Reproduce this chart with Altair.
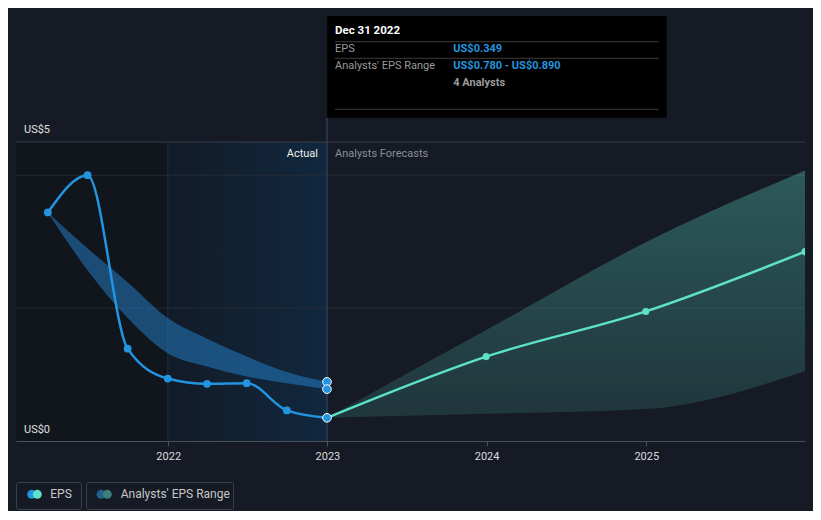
import altair as alt
import pandas as pd

# ---------------- data ----------------
eps_dates = ["2021-03-31", "2021-06-30", "2021-09-30", "2021-12-31",
             "2022-03-31", "2022-06-30", "2022-09-30", "2022-12-31"]
eps_values = [3.44, 4.00, 1.39, 0.94, 0.86, 0.87, 0.46, 0.349]
past_range_low = [3.44, 2.57, 1.85, 1.32, 1.12, 0.97, 0.87, 0.78]
past_range_high = [3.44, 2.90, 2.39, 1.85, 1.54, 1.27, 1.04, 0.89]

fc_dates = ["2022-12-31", "2023-12-31", "2024-12-31", "2025-12-31"]
fc_values = [0.349, 1.27, 1.95, 2.85]
fc_low = [0.349, 0.41, 0.48, 1.05]
fc_high = [0.349, 1.67, 2.99, 4.07]

grid_values = [2, 4]
top_value = [4.5]
year_ticks = [2022, 2023, 2024, 2025]
n_analysts = 4

# ---------------- styling ----------------
BG = "#151a24"
BLUE = "#2394df"
TEAL = "#5de1c9"
W, H = 789, 299

xs = alt.Scale(domain=[alt.DateTime(year=2021, month=1, date=17),
                       alt.DateTime(year=2025, month=12, date=31)])
ys = alt.Scale(domain=[0, 4.5], nice=False, zero=False)

xaxis = alt.Axis(values=[alt.DateTime(year=y, month=1, date=1) for y in year_ticks],
                 format="%Y", labelColor="#dcdcdc", labelFontSize=11,
                 tickColor="#4a4f58", tickSize=5, domainColor="#4a4f58",
                 domainWidth=1, grid=False, labelPadding=4, title=None,
                 labelFont="Roboto")


def X(field):
    return alt.X(field + ":T", scale=xs, axis=xaxis, title=None)


def Y(field):
    return alt.Y(field + ":Q", scale=ys, axis=None, title=None)


one = pd.DataFrame({"a": [0]})


def txt(s, x, y, color="#e0e0e0", size=11, weight="normal", align="left"):
    return alt.Chart(one).mark_text(text=s, color=color, fontSize=size,
                                    fontWeight=weight, align=align,
                                    baseline="middle", font="Roboto").encode(
        x=alt.value(x), y=alt.value(y))


def box(x1, x2, y1, y2, fill, stroke=None, radius=0):
    kw = dict(fill=fill)
    if stroke:
        kw.update(stroke=stroke, strokeWidth=1)
    if radius:
        kw.update(cornerRadius=radius)
    return alt.Chart(one).mark_rect(**kw).encode(
        x=alt.value(x1), x2=alt.value(x2), y=alt.value(y1), y2=alt.value(y2))


def hline(x1, x2, y, color):
    return alt.Chart(one).mark_rule(color=color, strokeWidth=1).encode(
        x=alt.value(x1), x2=alt.value(x2), y=alt.value(y))


def dot(x, y, color, size=80):
    return alt.Chart(one).mark_point(filled=True, color=color, size=size, opacity=1).encode(
        x=alt.value(x), y=alt.value(y))


# ---------------- tables ----------------
eps_df = pd.DataFrame({"date": pd.to_datetime(eps_dates), "eps": eps_values,
                       "low": past_range_low, "high": past_range_high})
fc_df = pd.DataFrame({"date": pd.to_datetime(fc_dates), "eps": fc_values,
                      "low": fc_low, "high": fc_high})
last_date = eps_df["date"].iloc[-1]
prev_year = eps_df["date"].iloc[3]

regions = pd.DataFrame({"start": [pd.Timestamp("2021-01-17"), prev_year],
                        "end": [prev_year, last_date], "kind": ["past", "actual"]})

# ---------------- layers ----------------
dark_bg = alt.Chart(regions.iloc[[0]]).mark_rect(fill="#11151c").encode(
    x=X("start"), x2="end", y=alt.value(0), y2=alt.value(H))

actual_bg = alt.Chart(regions.iloc[[1]]).mark_rect(
    fill=alt.Gradient(gradient="linear", x1=0, x2=1, y1=0, y2=0,
                      stops=[alt.GradientStop(color="#121b28", offset=0),
                             alt.GradientStop(color="#11283e", offset=1)])
).encode(x=X("start"), x2="end", y=alt.value(0), y2=alt.value(H))

grid = alt.Chart(pd.DataFrame({"v": grid_values})).mark_rule(
    color="#262c36", strokeWidth=1).encode(y=Y("v"))
top_line = alt.Chart(pd.DataFrame({"v": top_value})).mark_rule(
    color="#383d46", strokeWidth=1).encode(y=Y("v"))

prev_line = alt.Chart(regions.iloc[[1]]).mark_rule(color="#1a3048", strokeWidth=1).encode(
    x=X("start"), y=alt.value(0), y2=alt.value(H))
now_line = alt.Chart(regions.iloc[[1]]).mark_rule(color="#34506c", strokeWidth=1).encode(
    x=X("end"), y=alt.value(-24), y2=alt.value(H))

past_band = alt.Chart(eps_df).mark_area(interpolate="monotone", fill="#2383d0",
                                        opacity=0.5).encode(
    x=X("date"), y=Y("low"), y2="high")

fc_band = alt.Chart(fc_df).mark_area(
    interpolate="monotone",
    fill=alt.Gradient(gradient="linear", x1=0, x2=0, y1=0, y2=1,
                      stops=[alt.GradientStop(color="rgba(95,224,200,0.32)", offset=0),
                             alt.GradientStop(color="rgba(95,224,200,0.14)", offset=1)])
).encode(x=X("date"), y=Y("low"), y2="high")

eps_line = alt.Chart(eps_df).mark_line(interpolate="monotone", color=BLUE,
                                       strokeWidth=2.5).encode(x=X("date"), y=Y("eps"))
fc_line = alt.Chart(fc_df).mark_line(interpolate="monotone", color=TEAL,
                                     strokeWidth=2.5).encode(x=X("date"), y=Y("eps"))

eps_pts = alt.Chart(eps_df.iloc[:-1]).mark_point(filled=True, color=BLUE, size=60,
                                                opacity=1).encode(x=X("date"), y=Y("eps"))
fc_pts = alt.Chart(fc_df.iloc[1:]).mark_point(filled=True, color=TEAL, size=50, opacity=1,
                                             clip=True).encode(x=X("date"), y=Y("eps"))

last_df = pd.DataFrame({"date": [last_date] * 3,
                        "v": [past_range_high[-1], past_range_low[-1], eps_values[-1]]})
last_pts = alt.Chart(last_df).mark_point(filled=True, fill=BLUE, stroke="white",
                                         strokeWidth=1, size=75, opacity=1).encode(
    x=X("date"), y=Y("v"))

# ---------------- annotations ----------------
ann = [
    txt("US$5", 8, -12),
    txt("US$0", 8, 288),
    txt("Actual", 302, 12, color="#f0f0f0", align="right"),
    txt("Analysts Forecasts", 319, 12, color="#8a8f98"),
    # tooltip
    box(311.3, 650.7, -126, -24.3, "#000000"),
    txt("Dec 31 2022", 319, -111, color="#ffffff", size=11.5, weight="bold"),
    hline(319, 643, -100.3, "#3c3c3c"),
    txt("EPS", 319, -93, color="#9a9a9a"),
    txt(f"US${eps_values[-1]:.3f}", 437.3, -93, color=BLUE, weight="bold"),
    hline(319, 643, -83.7, "#3c3c3c"),
    txt("Analysts' EPS Range", 319, -76.3, color="#9a9a9a"),
    txt(f"US${past_range_low[-1]:.3f} - US${past_range_high[-1]:.3f}", 437.3, -76.3,
        color=BLUE, weight="bold"),
    txt(f"{n_analysts} Analysts", 437.3, -59.3, color="#9a9a9a", weight="bold"),
    hline(319, 643, -32.7, "#3c3c3c"),
    # legend
    box(0.5, 65.5, 340.5, 367.5, BG, stroke="#3b414c", radius=2),
    dot(15.7, 352.3, BLUE),
    dot(21.3, 352.3, TEAL),
    txt("EPS", 34.3, 352.3, color="#c8c8c8", size=12),
    box(70.5, 217.5, 340.5, 367.5, BG, stroke="#3b414c", radius=2),
    dot(85, 352.3, "#22608f"),
    dot(91.3, 352.3, "#3a8078"),
    txt("Analysts' EPS Range", 104.7, 352.3, color="#c8c8c8", size=12),
]

chart = alt.layer(
    dark_bg, actual_bg, grid, top_line, prev_line, now_line,
    past_band, fc_band, eps_line, fc_line, eps_pts, fc_pts, last_pts,
    *ann
).properties(
    width=W, height=H,
    autosize=alt.AutoSizeParams(type="none"),
    padding={"left": 8, "top": 134, "right": 8, "bottom": 70},
    background=BG,
).configure(font="Roboto").configure_view(stroke=None, strokeWidth=0)

chart.save("out.html", embed_options={"renderer": "svg", "actions": False})
